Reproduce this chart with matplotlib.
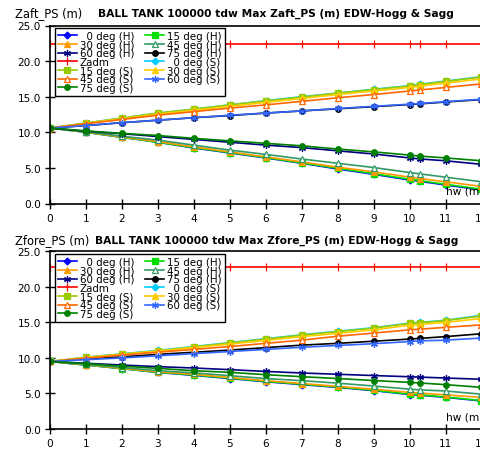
import matplotlib
matplotlib.use('Agg')
import matplotlib.pyplot as plt

plt.rcParams['font.family'] = ['DejaVu Sans']

hw = [0, 1, 2, 3, 4, 5, 6, 7, 8, 9, 10, 10.3, 11, 12]
x_ticks = [0, 1, 2, 3, 4, 5, 6, 7, 8, 9, 10, 11, 12]
y_ticks = [0.0, 5.0, 10.0, 15.0, 20.0, 25.0]

series_names = ['0 deg (H)', '15 deg (H)', '30 deg (H)', '45 deg (H)', '60 deg (H)', '75 deg (H)',
                'Zadm', '0 deg (S)', '15 deg (S)', '30 deg (S)', '45 deg (S)', '60 deg (S)', '75 deg (S)']

# ---- Zaft_PS ----
aft_0H = [10.6, 10.0, 9.3, 8.6, 7.8, 7.1, 6.4, 5.65, 4.85, 4.1, 3.3, 3.1, 2.6, 1.9]
aft_15H = [10.6, 10.0, 9.3, 8.6, 7.85, 7.15, 6.45, 5.7, 4.95, 4.2, 3.4, 3.2, 2.7, 2.0]
aft_30H = [10.6, 10.05, 9.35, 8.7, 7.95, 7.25, 6.55, 5.85, 5.1, 4.45, 3.7, 3.5, 3.05, 2.4]
aft_45H = [10.6, 10.1, 9.45, 8.9, 8.2, 7.5, 6.9, 6.25, 5.65, 5.05, 4.35, 4.15, 3.7, 3.05]
aft_60H = [10.6, 10.15, 9.8, 9.4, 9.0, 8.6, 8.2, 7.85, 7.4, 6.95, 6.4, 6.25, 6.0, 5.5]
aft_75H = [10.6, 10.95, 11.35, 11.7, 12.05, 12.35, 12.7, 13.0, 13.3, 13.6, 13.9, 14.0, 14.25, 14.6]
aft_Zadm = [22.45, 22.45, 22.45, 22.45, 22.45, 22.45, 22.45, 22.45, 22.45, 22.45, 22.45, 22.45, 22.45, 22.45]
aft_0S = [10.6, 11.3, 12.0, 12.7, 13.25, 13.85, 14.45, 15.0, 15.5, 16.05, 16.55, 16.75, 17.2, 17.8]
aft_15S = [10.6, 11.3, 12.0, 12.7, 13.25, 13.85, 14.4, 14.95, 15.5, 16.0, 16.5, 16.7, 17.15, 17.75]
aft_30S = [10.6, 11.25, 11.9, 12.55, 13.1, 13.65, 14.2, 14.75, 15.3, 15.8, 16.3, 16.5, 16.9, 17.5]
aft_45S = [10.6, 11.2, 11.8, 12.4, 12.9, 13.4, 13.85, 14.35, 14.85, 15.3, 15.8, 15.95, 16.3, 16.8]
aft_60S = [10.6, 10.95, 11.35, 11.7, 12.05, 12.4, 12.7, 13.0, 13.35, 13.65, 13.95, 14.05, 14.3, 14.65]
aft_75S = [10.6, 10.2, 9.85, 9.55, 9.15, 8.8, 8.45, 8.1, 7.65, 7.25, 6.8, 6.65, 6.4, 6.0]

# ---- Zfore_PS ----
fore_0H = [9.5, 9.0, 8.5, 7.95, 7.55, 7.1, 6.65, 6.25, 5.85, 5.4, 4.85, 4.75, 4.45, 3.95]
fore_15H = [9.5, 9.0, 8.5, 7.97, 7.6, 7.15, 6.7, 6.3, 5.9, 5.45, 4.9, 4.8, 4.5, 4.0]
fore_30H = [9.5, 9.05, 8.55, 8.05, 7.7, 7.25, 6.8, 6.4, 6.0, 5.6, 5.15, 5.05, 4.8, 4.45]
fore_45H = [9.5, 9.1, 8.65, 8.2, 7.9, 7.5, 7.1, 6.8, 6.45, 6.05, 5.6, 5.5, 5.35, 4.9]
fore_60H = [9.5, 9.25, 9.0, 8.77, 8.58, 8.35, 8.1, 7.88, 7.7, 7.52, 7.35, 7.3, 7.17, 7.0]
fore_75H = [9.5, 9.85, 10.15, 10.5, 10.8, 11.1, 11.45, 11.8, 12.05, 12.35, 12.65, 12.75, 13.0, 13.4]
fore_Zadm = [22.75, 22.75, 22.75, 22.75, 22.75, 22.75, 22.75, 22.75, 22.75, 22.75, 22.75, 22.75, 22.75, 22.75]
fore_0S = [9.5, 10.1, 10.57, 11.05, 11.6, 12.15, 12.7, 13.25, 13.75, 14.25, 14.9, 15.0, 15.3, 16.0]
fore_15S = [9.5, 10.08, 10.55, 11.0, 11.55, 12.1, 12.65, 13.2, 13.7, 14.2, 14.85, 14.95, 15.25, 15.9]
fore_30S = [9.5, 10.05, 10.5, 10.95, 11.45, 11.95, 12.45, 13.0, 13.45, 13.95, 14.6, 14.7, 15.0, 15.55]
fore_45S = [9.5, 9.95, 10.4, 10.8, 11.2, 11.6, 12.05, 12.5, 13.05, 13.5, 13.95, 14.05, 14.3, 14.65]
fore_60S = [9.5, 9.75, 10.0, 10.3, 10.6, 10.9, 11.2, 11.5, 11.75, 12.0, 12.3, 12.4, 12.5, 12.8]
fore_75S = [9.5, 9.2, 8.85, 8.53, 8.2, 7.97, 7.64, 7.36, 7.1, 6.82, 6.56, 6.47, 6.24, 5.86]

aft_series = [aft_0H, aft_15H, aft_30H, aft_45H, aft_60H, aft_75H, aft_Zadm,
              aft_0S, aft_15S, aft_30S, aft_45S, aft_60S, aft_75S]
fore_series = [fore_0H, fore_15H, fore_30H, fore_45H, fore_60H, fore_75H, fore_Zadm,
               fore_0S, fore_15S, fore_30S, fore_45S, fore_60S, fore_75S]

AST = (6, 2, 0)
styles = {
    '0 deg (H)': dict(color='#0000FF', marker='D', mfc='#0000FF', ms=3.5),
    '15 deg (H)': dict(color='#00E000', marker='s', mfc='#00E000', ms=4),
    '30 deg (H)': dict(color='#FF9900', marker='^', mfc='#FF9900', ms=4.5),
    '45 deg (H)': dict(color='#339966', marker='^', mfc='white', ms=4.5),
    '60 deg (H)': dict(color='#000080', marker=AST, mfc='#000080', ms=5),
    '75 deg (H)': dict(color='#000000', marker='o', mfc='#000000', ms=4),
    'Zadm': dict(color='#FF0000', marker='|', mfc='#FF0000', ms=6),
    '0 deg (S)': dict(color='#00CCFF', marker='D', mfc='#00CCFF', ms=3.5),
    '15 deg (S)': dict(color='#99CC00', marker='s', mfc='#99CC00', ms=4),
    '30 deg (S)': dict(color='#FFCC00', marker='^', mfc='#FFCC00', ms=4.5),
    '45 deg (S)': dict(color='#FF6600', marker='^', mfc='white', ms=4.5),
    '60 deg (S)': dict(color='#3366FF', marker=AST, mfc='#3366FF', ms=5),
    '75 deg (S)': dict(color='#008000', marker='o', mfc='#008000', ms=4),
}

def legend_label(name):
    if name.startswith('0 '):
        return '  ' + name
    return name

W, H = 481, 452
fig = plt.figure(figsize=(W / 100, H / 100), dpi=100)

panels = [
    dict(series=aft_series, top=26.5, bottom=204.5, ylab='Zaft_PS (m)',
         title='BALL TANK 100000 tdw Max Zaft_PS (m) EDW-Hogg & Sagg', ty=14, tx2=98),
    dict(series=fore_series, top=252.3, bottom=430.0, ylab='Zfore_PS (m)',
         title='BALL TANK 100000 tdw Max Zfore_PS (m) EDW-Hogg & Sagg', ty=241, tx2=95),
]

FS_TICK = 7.6
FS_LEG = 7.4
FS_TITLE = 7.7
FS_YLAB = 8.3
for p in panels:
    left = 50 / W
    width = (481.5 - 50) / W
    b = 1 - p['bottom'] / H
    h = (p['bottom'] - p['top']) / H
    ax = fig.add_axes([left, b, width, h])
    handles = []
    for name, vals in zip(series_names, p['series']):
        st = styles[name]
        ln, = ax.plot(hw, vals, color=st['color'], lw=1.2, marker=st['marker'],
                      ms=st['ms'], mfc=st['mfc'], mec=st['color'], mew=0.9,
                      label=legend_label(name))
        handles.append(ln)
    ax.set_xlim(0, 12)
    ax.set_ylim(0, 25)
    ax.set_xticks(x_ticks)
    ax.set_xticklabels([str(t) for t in x_ticks])
    ax.set_yticks(y_ticks)
    ax.set_yticklabels(['%.1f' % t for t in y_ticks])
    ax.tick_params(direction='inout', length=7, width=1, labelsize=FS_TICK, colors='black', pad=3)
    ax.spines['right'].set_visible(False)
    for s in ['left', 'bottom', 'top']:
        ax.spines[s].set_linewidth(1.2)
    ax.text(11.0, 1.8, 'hw (m)', ha='left', va='center', fontsize=FS_TICK)
    order = handles[0::2] + handles[1::2]
    leg = ax.legend(order, [hh.get_label() for hh in order], ncol=2,
                    loc='upper left', bbox_to_anchor=(55 / W, 1 - (p['top'] + 2.5) / H),
                    bbox_transform=fig.transFigure, borderaxespad=0,
                    fontsize=FS_LEG, labelspacing=-0.13, handlelength=1.8, handletextpad=0.3,
                    columnspacing=1.1, borderpad=0.3, frameon=True, fancybox=False,
                    framealpha=1, edgecolor='black')
    leg.get_frame().set_linewidth(1.0)
    fig.text(15 / W, 1 - p['ty'] / H, p['ylab'], ha='left', va='center', fontsize=FS_YLAB)
    fig.text(p['tx2'] / W, 1 - p['ty'] / H, p['title'], ha='left', va='center',
             fontsize=FS_TITLE, fontweight='bold')

fig.savefig('out.png', dpi=100)
